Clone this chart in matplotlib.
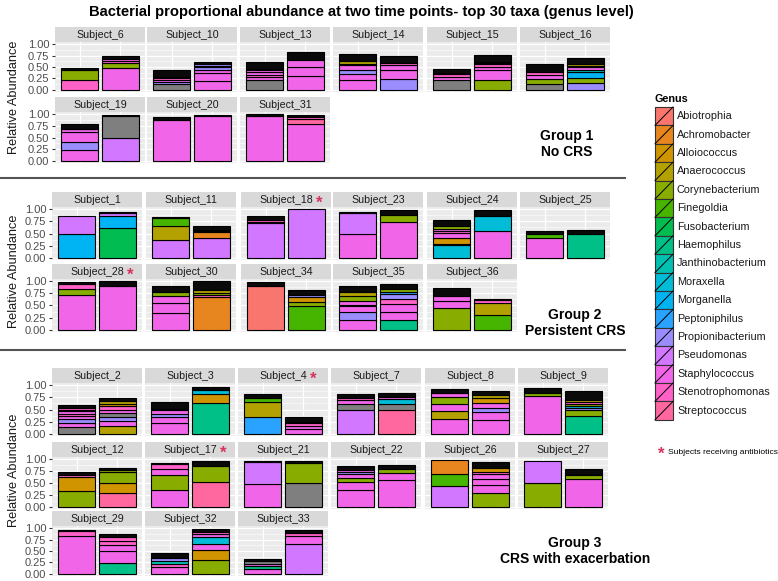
import numpy as np
import matplotlib
matplotlib.use("Agg")
import matplotlib.pyplot as plt
from matplotlib.patches import Rectangle

plt.rcParams['font.family'] = ['Liberation Sans', 'DejaVu Sans']

title = "Bacterial proportional abundance at two time points- top 30 taxa (genus level)"

genera = ["Abiotrophia", "Achromobacter", "Alloiococcus", "Anaerococcus", "Corynebacterium",
          "Finegoldia", "Fusobacterium", "Haemophilus", "Janthinobacterium", "Moraxella",
          "Morganella", "Peptoniphilus", "Propionibacterium", "Pseudomonas", "Staphylococcus",
          "Stenotrophomonas", "Streptococcus"]
codes = ["Abi", "Ach", "All", "Ana", "Cor", "Fin", "Fus", "Hae", "Jan", "Mox",
         "Mog", "Pep", "Pro", "Pse", "Sta", "Stn", "Str"]

# each subject: (first time point, second time point), segments bottom -> top
# "NA" = unassigned genus (grey), "X" = many tiny taxa (appear black)
group1 = {
    "Subject_6":  ([("Stn", .22), ("Cor", .22), ("X", .03)],
                   [("Sta", .47), ("Cor", .12), ("Stn", .05), ("Sta", .04), ("X", .07)]),
    "Subject_10": ([("NA", .12), ("Pro", .05), ("Sta", .04), ("Stn", .04), ("Sta", .04), ("X", .14)],
                   [("Sta", .19), ("Sta", .17), ("Sta", .08), ("Pro", .05), ("Sta", .04), ("Pro", .04), ("X", .05)]),
    "Subject_13": ([("NA", .22), ("Sta", .06), ("Stn", .05), ("Sta", .06), ("Sta", .05), ("Cor", .02), ("X", .16)],
                   [("Sta", .31), ("Sta", .20), ("Sta", .14), ("X", .17)]),
    "Subject_14": ([("Sta", .21), ("Sta", .14), ("Pro", .09), ("Sta", .10), ("Stn", .03), ("Ana", .07), ("X", .15)],
                   [("Pro", .23), ("Sta", .21), ("Sta", .10), ("Stn", .05), ("X", .16)]),
    "Subject_15": ([("NA", .22), ("Sta", .06), ("Stn", .06), ("Pro", .02), ("X", .10)],
                   [("Cor", .22), ("Sta", .21), ("Sta", .06), ("Stn", .07), ("Sta", .03), ("Pro", .02), ("X", .15)]),
    "Subject_16": ([("NA", .12), ("Cor", .12), ("Sta", .09), ("Stn", .05), ("X", .18)],
                   [("Pro", .14), ("Cor", .12), ("Mog", .12), ("Jan", .05), ("Sta", .07), ("Stn", .03), ("Ana", .04), ("X", .12)]),
    "Subject_19": ([("Sta", .22), ("Pro", .19), ("Sta", .20), ("Sta", .08), ("X", .10)],
                   [("Pse", .48), ("NA", .48), ("X", .03)]),
    "Subject_20": ([("Sta", .87), ("X", .08)],
                   [("Sta", .96), ("X", .03)]),
    "Subject_31": ([("Sta", .97), ("X", .03)],
                   [("Sta", .80), ("Str", .10), ("Stn", .05), ("X", .04)]),
}

group2 = {
    "Subject_1":  ([("Mog", .48), ("Pse", .38)],
                   [("Fus", .61), ("Mog", .25), ("Pse", .06), ("X", .03)]),
    "Subject_11": ([("Pse", .36), ("Ana", .30), ("Fin", .16), ("X", .02)],
                   [("Pse", .40), ("Ach", .13), ("Stn", .03), ("Sta", .02), ("X", .07)]),
    "Subject_18": ([("Pse", .71), ("Sta", .03), ("Stn", .03), ("X", .10)],
                   [("Pse", 1.0)]),
    "Subject_23": ([("Sta", .48), ("Pse", .45), ("X", .01)],
                   [("Sta", .73), ("Cor", .15), ("X", .10)]),
    "Subject_24": ([("Mox", .26), ("Sta", .03), ("All", .12), ("Sta", .10), ("Stn", .05), ("Sta", .04), ("Cor", .05), ("X", .14)],
                   [("Sta", .55), ("Mox", .31), ("X", .12)]),
    "Subject_25": ([("Sta", .41), ("Fin", .09), ("X", .06)],
                   [("Hae", .48), ("X", .10)]),
    "Subject_28": ([("Sta", .72), ("Cor", .12), ("Stn", .10), ("X", .04)],
                   [("Sta", .90), ("X", .10)]),
    "Subject_30": ([("Sta", .34), ("Sta", .21), ("Sta", .14), ("Cor", .08), ("X", .13)],
                   [("Ach", .67), ("Stn", .05), ("Cor", .04), ("Ana", .06), ("X", .18)]),
    "Subject_34": ([("Abi", .90), ("X", .09)],
                   [("Fin", .48), ("Cor", .10), ("All", .10), ("Pro", .04), ("X", .10)]),
    "Subject_35": ([("Sta", .20), ("Pro", .17), ("Sta", .13), ("Sta", .10), ("Cor", .10), ("Ana", .08), ("X", .13)],
                   [("Hae", .20), ("Sta", .17), ("Sta", .16), ("Stn", .10), ("Pro", .10), ("Pep", .05), ("Cor", .07), ("X", .09)]),
    "Subject_36": ([("Cor", .45), ("Sta", .14), ("Sta", .10), ("X", .17)],
                   [("Fin", .30), ("Ana", .26), ("Stn", .05), ("X", .02)]),
}

group3 = {
    "Subject_2":  ([("NA", .14), ("Sta", .09), ("Pro", .07), ("Sta", .07), ("Stn", .04), ("Sta", .05), ("Sta", .04), ("Stn", .04), ("X", .06)],
                   [("Ana", .16), ("Sta", .10), ("Pro", .08), ("NA", .09), ("Sta", .07), ("Stn", .07), ("All", .05), ("Ana", .06), ("X", .05)]),
    "Subject_3":  ([("Sta", .21), ("Sta", .13), ("Pro", .07), ("Sta", .07), ("Jan", .03), ("X", .14)],
                   [("Hae", .63), ("All", .20), ("Mox", .07), ("X", .07)]),
    "Subject_4":  ([("Pep", .34), ("Ana", .31), ("Fin", .08), ("X", .09)],
                   [("Sta", .09), ("Sta", .07), ("Stn", .05), ("Pro", .04), ("X", .10)]),
    "Subject_7":  ([("Pse", .50), ("NA", .12), ("Sta", .07), ("Stn", .05), ("X", .09)],
                   [("Str", .48), ("NA", .14), ("Mox", .10), ("Sta", .04), ("X", .09)]),
    "Subject_8":  ([("Sta", .30), ("Ana", .17), ("Sta", .15), ("Cor", .14), ("Sta", .09), ("X", .07)],
                   [("Sta", .28), ("Sta", .16), ("Pro", .10), ("Sta", .10), ("All", .09), ("Ana", .08), ("X", .08)]),
    "Subject_9":  ([("Sta", .79), ("Cor", .06), ("X", .10)],
                   [("Hae", .37), ("Cor", .12), ("Pro", .04), ("Mox", .05), ("Cor", .04), ("Stn", .04), ("Ana", .04), ("X", .18)]),
    "Subject_12": ([("Cor", .33), ("All", .30), ("Stn", .03), ("X", .08)],
                   [("Str", .29), ("All", .22), ("Cor", .22), ("Cor", .05), ("X", .04)]),
    "Subject_17": ([("Sta", .35), ("Cor", .31), ("Sta", .13), ("Stn", .12), ("X", .01)],
                   [("Str", .52), ("Cor", .35), ("X", .10)]),
    "Subject_21": ([("Sta", .47), ("Pse", .48), ("X", .02)],
                   [("NA", .49), ("Cor", .43), ("X", .05)]),
    "Subject_22": ([("Sta", .36), ("Sta", .16), ("Cor", .09), ("Sta", .07), ("Pro", .05), ("Sta", .05), ("X", .09)],
                   [("Sta", .56), ("Sta", .15), ("Cor", .09), ("X", .08)]),
    "Subject_26": ([("Pse", .44), ("Fin", .26), ("Ach", .28)],
                   [("Cor", .28), ("Sta", .17), ("Sta", .14), ("Sta", .10), ("Stn", .04), ("All", .08), ("X", .14)]),
    "Subject_27": ([("Cor", .51), ("Pse", .45)],
                   [("Sta", .59), ("Cor", .07), ("Fin", .04), ("X", .09)]),
    "Subject_29": ([("Sta", .84), ("Stn", .10), ("X", .03)],
                   [("Hae", .24), ("Sta", .26), ("Sta", .13), ("Stn", .10), ("Stn", .07), ("X", .07)]),
    "Subject_32": ([("Sta", .14), ("Stn", .08), ("Jan", .07), ("Pro", .05), ("X", .11)],
                   [("Cor", .31), ("All", .21), ("Sta", .14), ("Mox", .14), ("Sta", .07), ("Stn", .05), ("X", .06)]),
    "Subject_33": ([("Sta", .10), ("Hae", .07), ("Sta", .05), ("NA", .07), ("X", .04)],
                   [("Pse", .66), ("Sta", .17), ("Stn", .07), ("X", .06)]),
}

antibiotics = ["Subject_18", "Subject_28", "Subject_4", "Subject_17"]
group_titles = ["Group 1\nNo CRS", "Group 2\nPersistent CRS", "Group 3\nCRS with exacerbation"]
yticks = [0, 0.25, 0.5, 0.75, 1.0]
ytick_labels = ["0.00", "0.25", "0.50", "0.75", "1.00"]


def hcl(h, c=100.0, l=65.0):
    # ggplot2 default hue palette colour
    h = np.deg2rad(h)
    u, v = c * np.cos(h), c * np.sin(h)
    xn, yn, zn = 95.047, 100.0, 108.883
    den = xn + 15 * yn + 3 * zn
    un, vn = 4 * xn / den, 9 * yn / den
    y = yn * ((l + 16) / 116) ** 3
    up = u / (13 * l) + un
    vp = v / (13 * l) + vn
    x = 9 * y * up / (4 * vp)
    z = -x / 3 - 5 * y + 3 * y / vp
    m = np.array([[3.240479, -1.537150, -0.498535],
                  [-0.969256, 1.875992, 0.041556],
                  [0.055648, -0.204043, 1.057311]])
    rgb = m @ np.array([x, y, z]) / 100
    rgb = np.where(rgb <= 0.0031308, 12.92 * rgb, 1.055 * np.abs(rgb) ** (1 / 2.4) - 0.055)
    return tuple(np.clip(rgb, 0, 1))


colors = {c: hcl(15 + 360 * i / len(codes)) for i, c in enumerate(codes)}
colors["NA"] = "#7F7F7F"
colors["X"] = "#0A0A0A"

W, H = 778, 581
fig = plt.figure(figsize=(W / 100, H / 100), dpi=100)


def px_axes(x, y, w, h):
    return fig.add_axes([x / W, 1 - (y + h) / H, w / W, h / H])


ov = px_axes(0, 0, W, H)
ov.set_xlim(0, W)
ov.set_ylim(H, 0)
ov.axis("off")

ov.text(361, 12, title, ha="center", va="center", fontsize=10.6, weight="bold")
for ysep in [178, 350]:
    ov.plot([0, 625], [ysep, ysep], color="#555555", lw=1.5)

# layout of the three facet blocks (pixels)
layout = [
    dict(cols=[55, 147, 240, 333, 427, 520], rows=[(27, 50), (97, 51)], ylab=97, lab=(567, 144)),
    dict(cols=[52, 146, 241, 333, 427, 520], rows=[(192, 53), (264, 53)], ylab=271, lab=(575, 323)),
    dict(cols=[52, 145, 238, 331, 425, 518], rows=[(368, 53), (442, 52), (511, 50)], ylab=470, lab=(575, 551)),
]


def draw_panel(x, y, h, name, bars, first_col):
    st = px_axes(x, y, 90, 15)
    st.set_facecolor("#D9D9D9")
    st.set_xticks([])
    st.set_yticks([])
    for s in st.spines.values():
        s.set_visible(False)
    t = st.text(0.5, 0.45, name, ha="center", va="center", fontsize=7.7,
                color="#1A1A1A", transform=st.transAxes)
    if name in antibiotics:
        st.annotate("*", xy=(1, 0.5), xycoords=t, xytext=(2.5, -2.5),
                    textcoords="offset points", ha="left", va="center",
                    fontsize=12, weight="bold", color="#D7335E")

    ax = px_axes(x, y + 15, 90, h)
    ax.set_facecolor("#EBEBEB")
    for xpos, segs in zip([1, 2], bars):
        bottom = 0.0
        for code, val in segs:
            ax.bar(xpos, val, bottom=bottom, width=0.9, color=colors[code],
                   edgecolor="black", linewidth=0.8, zorder=3)
            bottom += val
    ax.set_xlim(0.4, 2.6)
    ax.set_ylim(-0.05, 1.05)
    ax.set_xticks([1, 2])
    ax.set_yticks(yticks)
    ax.set_yticks([0.125, 0.375, 0.625, 0.875], minor=True)
    ax.grid(which="major", color="white", lw=0.9, zorder=0)
    ax.grid(which="minor", axis="y", color="white", lw=0.4, zorder=0)
    ax.set_axisbelow(True)
    for s in ax.spines.values():
        s.set_visible(False)
    ax.tick_params(axis="x", length=0, labelbottom=False)
    ax.tick_params(axis="y", which="minor", length=0)
    if first_col:
        ax.set_yticklabels(ytick_labels, fontsize=8, color="#4D4D4D")
        ax.tick_params(axis="y", which="major", length=2.5, color="#333333", pad=1.5)
    else:
        ax.tick_params(axis="y", which="major", length=0, labelleft=False)


for g, (subjects, lay, gtitle) in enumerate(zip([group1, group2, group3], layout, group_titles)):
    for j, (name, bars) in enumerate(subjects.items()):
        r, c = divmod(j, 6)
        ytop, h = lay["rows"][r]
        draw_panel(lay["cols"][c], ytop, h, name, bars, c == 0)
    ov.text(14, lay["ylab"], "Relative Abundance", rotation=90, ha="center",
            va="center", fontsize=9.2, color="#1A1A1A")
    ov.text(lay["lab"][0], lay["lab"][1], gtitle, ha="center", va="center",
            fontsize=10, weight="bold", linespacing=1.15)

# legend
ov.text(655, 99, "Genus", ha="left", va="center", fontsize=7.8, weight="bold")
key_h = 18.4
for i, (code, gname) in enumerate(zip(codes, genera)):
    ky = 107 + i * key_h
    ov.add_patch(Rectangle((655, ky), 18, key_h, facecolor=colors[code],
                           edgecolor="#333333", lw=0.8))
    ov.plot([655, 673], [ky + key_h, ky], color="black", lw=0.7)
    ov.text(677, ky + key_h / 2, gname, ha="left", va="center", fontsize=7.8, color="#1A1A1A")

ov.text(661, 454, "*", ha="center", va="center", fontsize=12, weight="bold", color="#D7335E")
ov.text(668, 452, "Subjects receiving antibiotics", ha="left", va="center", fontsize=6.1)

fig.savefig("out.png", dpi=100)
